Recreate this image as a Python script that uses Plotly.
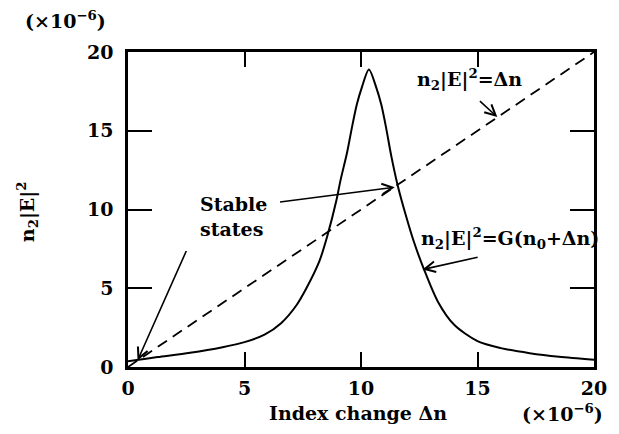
import plotly.graph_objects as go

# Index change (x 1e-6) and the resonance curve G(n0 + dn) (x 1e-6)
curve_dn = [0.0, 0.3, 1.27, 2.66, 4.06, 5.0, 5.86, 6.57, 7.23, 7.65, 8.21, 8.56,
            8.94, 9.12, 9.40, 9.61, 9.82, 10.03, 10.34, 10.66, 10.87, 11.08,
            11.29, 11.57, 11.92, 12.27, 12.69, 13.3, 14.0, 15.0, 16.0, 17.24,
            18.5, 20.0]
curve_g = [0.37, 0.43, 0.63, 0.9, 1.26, 1.58, 2.05, 2.78, 3.92, 4.98, 6.7, 8.35,
           10.55, 11.85, 13.6, 15.2, 16.66, 17.72, 18.89, 17.72, 16.66, 15.17,
           13.47, 11.56, 9.65, 7.95, 6.25, 4.15, 2.68, 1.64, 1.2, 0.88,
           0.65, 0.46]

# Straight line n2|E|^2 = dn
line_dn = [0, 20]
line_val = [0, 20]

x_ticks = [0, 5, 10, 15, 20]
y_ticks = [0, 5, 10, 15, 20]

FONT = "DejaVu Serif"
FS = 19

fig = go.Figure()
fig.add_trace(go.Scatter(
    x=line_dn, y=line_val, mode="lines",
    line=dict(color="black", width=1.8, dash="11px,7px"),
    hoverinfo="skip", showlegend=False))
fig.add_trace(go.Scatter(
    x=curve_dn, y=curve_g, mode="lines",
    line=dict(color="black", width=2, shape="spline", smoothing=0.8),
    hoverinfo="skip", showlegend=False))

# arrows: (tail x, tail y, tip x, tip y) in data units
arrows = [
    (15.04, 16.97, 15.85, 15.87),
    (15.07, 6.99, 12.64, 6.19),
    (6.46, 10.46, 11.45, 11.41),
    (2.53, 7.46, 0.41, 0.41),
]
annotations = []
for ax_, ay_, x_, y_ in arrows:
    annotations.append(dict(
        x=x_, y=y_, ax=ax_, ay=ay_, xref="x", yref="y", axref="x", ayref="y",
        text="", showarrow=True, arrowhead=5, arrowsize=1.3, arrowwidth=1.6,
        arrowcolor="black", standoff=0, startstandoff=0))

label_font = dict(family=FONT, size=FS, color="black", weight="bold")
annotations += [
    dict(x=14.66, y=18.25, xref="x", yref="y", showarrow=False,
         text="n<sub>2</sub>|E|<sup>2</sup>=Δn", font=label_font),
    dict(x=16.4, y=8.18, xref="x", yref="y", showarrow=False,
         text="n<sub>2</sub>|E|<sup>2</sup>=G(n<sub>0</sub>+Δn)", font=label_font),
    dict(x=3.0, y=9.58, xref="x", yref="y", showarrow=False, xanchor="left",
         align="left", text="Stable<br>states", font=label_font),
    dict(x=21, y=20, xref="paper", yref="paper", xanchor="left", yanchor="middle",
         showarrow=False, text="(×10<sup>−6</sup>)", font=label_font),
    dict(x=528, y=413, xref="paper", yref="paper", xanchor="left", yanchor="middle",
         showarrow=False, text="(×10<sup>−6</sup>)", font=label_font),
    dict(x=363, y=413, xref="paper", yref="paper", xanchor="center", yanchor="middle",
         showarrow=False, text="Index change Δn", font=label_font),
    dict(x=25, y=212, xref="paper", yref="paper", xanchor="center", yanchor="middle",
         showarrow=False, textangle=-90, text="n<sub>2</sub>|E|<sup>2</sup>",
         font=label_font),
]

W, H = 619, 434
L, R, T, B = 128, 15, 52, 67
# convert pixel-placed labels to paper coordinates
for a in annotations:
    if a.get("xref") == "paper":
        a["x"] = (a["x"] - L) / (W - L - R)
        a["y"] = 1 - (a["y"] - T) / (H - T - B)

axis_common = dict(
    showline=True, linecolor="black", linewidth=2.5, mirror="ticks",
    ticks="inside", tickcolor="black", tickwidth=2, showgrid=False,
    zeroline=False, tickfont=dict(family=FONT, size=FS, color="black", weight="bold"),
)
fig.update_xaxes(range=[0, 20], tickvals=x_ticks, ticklen=15,
                 ticklabelstandoff=2, **axis_common)
fig.update_yaxes(range=[0, 20], tickvals=y_ticks, ticklen=24,
                 ticklabelstandoff=8, **axis_common)

fig.update_layout(
    width=W, height=H, margin=dict(l=L, r=R, t=T, b=B),
    paper_bgcolor="white", plot_bgcolor="white",
    annotations=annotations, showlegend=False,
)
fig.write_html("out.html")
